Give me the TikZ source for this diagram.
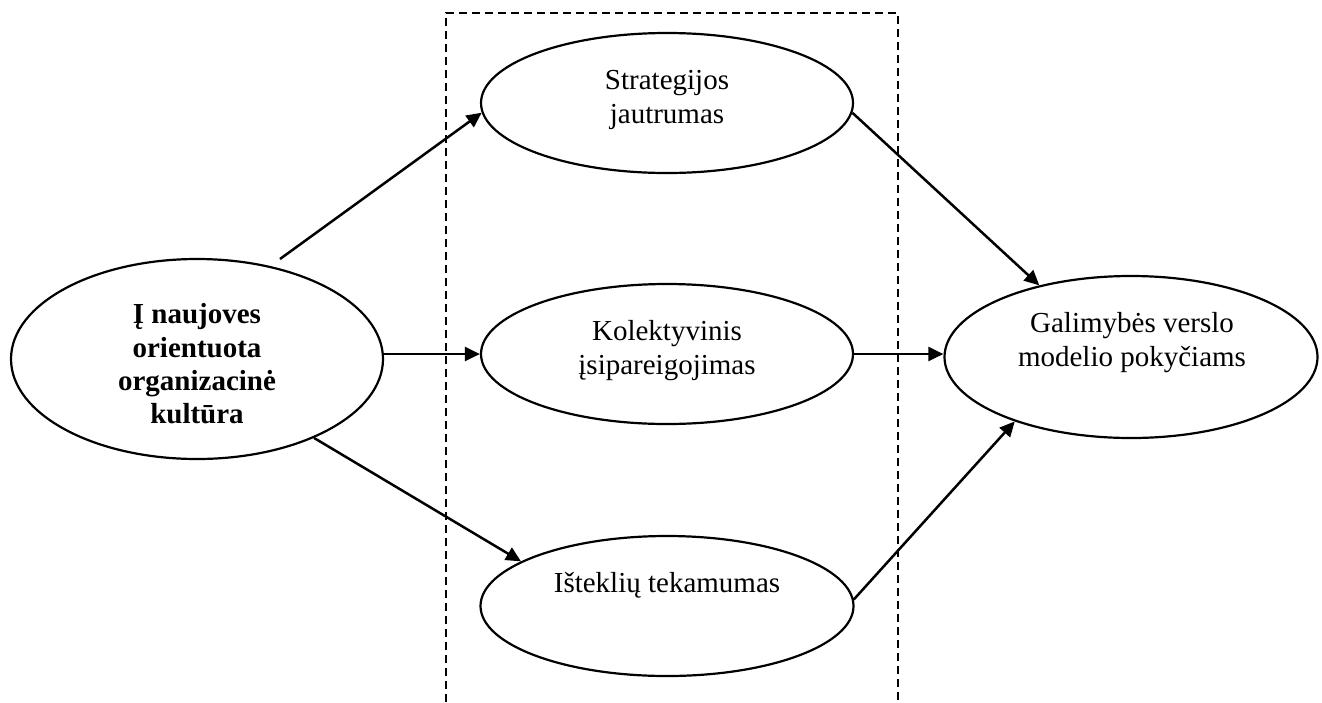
\documentclass[tikz,border=0pt]{standalone}
\usepackage{fontspec}
\setmainfont{Liberation Serif}
\usetikzlibrary{shapes.geometric,arrows.meta}

\begin{document}
\begin{tikzpicture}[x=1pt,y=-1pt,
  oval/.style={ellipse,draw,line width=2.2pt,inner sep=0pt},
  txt/.style={align=center,font=\fontsize{29}{34}\selectfont,inner sep=0pt},
  boldtxt/.style={align=center,font=\fontsize{29}{33.4}\selectfont\bfseries,inner sep=0pt},
  link/.style={line width=2.5pt,-{Triangle[length=15pt,width=14pt]}},
  frame/.style={dash pattern=on 8pt off 5pt,line width=1.6pt}]
\useasboundingbox (0,0) rectangle (1322,702);

% dashed frame around the mediating constructs (open at the bottom)
\draw[frame] (446,702) -- (446,13) -- (898,13) -- (898,702);

% ellipses
\node[oval,minimum width=372pt,minimum height=200pt] (cult)   at (197,359) {};
\node[oval,minimum width=372pt,minimum height=140pt] (strat)  at (667,103) {};
\node[oval,minimum width=372pt,minimum height=140pt] (commit) at (667,354) {};
\node[oval,minimum width=373pt,minimum height=140pt] (flow)   at (667,606) {};
\node[oval,minimum width=373pt,minimum height=162pt] (change) at (1131,357) {};

% texts
\node[boldtxt] (cultT) at (197,364) {Į naujoves\\orientuota\\organizacinė\\kultūra};
\node[txt] (stratT) at (667,100) {Strategijos\\jautrumas};
\node[txt] (commitT) at (667,351) {Kolektyvinis\\įsipareigojimas};
\node[txt,anchor=base] (flowT) at (667,592) {Išteklių tekamumas};
\node[txt] (changeT) at (1132,343) {Galimybės verslo\\modelio pokyčiams};

% connectors
\coordinate (c1) at (280,259);
\draw[link] (c1) -- (strat.183);
\draw[link] (cult.east |- commit.west) -- (commit.west);
\draw[link] (cult.-34) -- (flow.163);
\draw[link] (strat.-3) -- (change.142);
\draw[link] (commit.east) -- (change.west |- commit.east);
\draw[link] (flow.2) -- (change.209);
\end{tikzpicture}
\end{document}
